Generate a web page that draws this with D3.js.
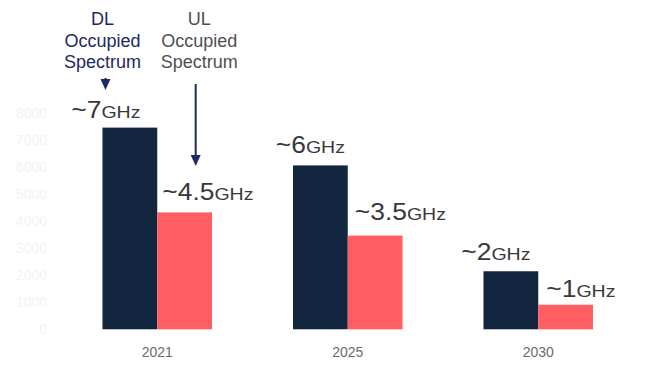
<!DOCTYPE html>
<html>
<head>
<meta charset="utf-8">
<script src="https://cdn.jsdelivr.net/npm/d3@7"></script>
<style>
  body { margin: 0; background: #fff; }
  svg { display: block; font-family: "Liberation Sans", Arial, sans-serif; }
</style>
</head>
<body>
<div id="chart"></div>
<script>
// data (MHz)
var years = ['2021', '2025', '2030'];
var series = ['DL', 'UL'];
var dlValues = [7470, 6070, 2150];
var ulValues = [4330, 3470, 910];
var dlLabels = ['~7', '~6', '~2'];
var ulLabels = ['~4.5', '~3.5', '~1'];
var yTicks = [0, 1000, 2000, 3000, 4000, 5000, 6000, 7000, 8000];

var width = 654, height = 374;
var colors = { DL: '#13263f', UL: '#ff5e62' };

// label nudges (annotation placement, like the slide)
var dlDx = [-24, -10, -15], dlDy = [-10, -12, -11];
var ulDx = [5, 7, 8], ulDy = [-12, -16, -8];

var svg = d3.select('#chart')
    .append('svg')
    .attr('width', width)
    .attr('height', height)

var x0 = d3.scaleBand()
    .domain(years)
    .range([62, 633.5])
    .paddingInner(0.425)
    .paddingOuter(0.2125);
var x1 = d3.scaleBand()
    .domain(series)
    .range([0, x0.bandwidth()]);
var y = d3.scaleLinear()
    .domain([0, 8000])
    .range([329.3, 113.3]);

var rows = years.map(function (yr, i) {
    return { year: yr, DL: dlValues[i], UL: ulValues[i], i: i };
});

// faint y axis labels
svg.append('g')
    .selectAll('text')
    .data(yTicks)
    .enter()
    .append('text')
    .attr('x', 47)
    .attr('y', function (d) { return y(d); })
    .attr('dy', '0.35em')
    .attr('text-anchor', 'end')
    .attr('font-size', 14)
    .attr('fill', '#f3f3f3')
    .text(function (d) { return d; });

// bars
var groups = svg.selectAll('.grp')
    .data(rows)
    .enter()
    .append('g')
    .attr('class', 'grp')
    .attr('transform', function (d) { return 'translate(' + x0(d.year) + ',0)'; });

groups.selectAll('rect')
    .data(function (d) {
        return series.map(function (s) { return { key: s, value: d[s] }; });
    })
    .enter()
    .append('rect')
    .attr('x', function (d) { return x1(d.key); })
    .attr('y', function (d) { return y(d.value); })
    .attr('width', x1.bandwidth())
    .attr('height', function (d) { return y(0) - y(d.value); })
    .attr('fill', function (d) { return colors[d.key]; });

// x labels
svg.append('g')
    .selectAll('text')
    .data(years)
    .enter()
    .append('text')
    .attr('x', function (d) { return x0(d) + x0.bandwidth() / 2; })
    .attr('y', 357)
    .attr('text-anchor', 'middle')
    .attr('font-size', 14)
    .attr('fill', '#6b6b6b')
    .text(function (d) { return d; });

// value labels (slide text is a little wider than normal)
function addLabel(txt, xp, yp, anchor) {
    var t = svg.append('g')
        .attr('transform', 'translate(' + xp + ',' + yp + ') scale(1.15,1)')
        .append('text')
        .attr('text-anchor', anchor)
        .attr('fill', '#383838');
    t.append('tspan').attr('font-size', 23).text(txt);
    t.append('tspan').attr('font-size', 17).text('GHz');
}
rows.forEach(function (d, i) {
    addLabel(dlLabels[i],
        x0(d.year) + x1('DL') + x1.bandwidth() / 2 + dlDx[i],
        y(d.DL) + dlDy[i], 'middle');
    addLabel(ulLabels[i],
        x0(d.year) + x1('UL') + ulDx[i],
        y(d.UL) + ulDy[i], 'start');
});

// annotations
var navy = '#1d2a5f';
var dlX = x0('2021'), ulX = x0('2021') + x1('UL') + 42;
var dlText = svg.append('text')
    .attr('text-anchor', 'middle')
    .attr('font-size', 18)
    .attr('fill', navy);
['DL', 'Occupied', 'Spectrum'].forEach(function (s, k) {
    dlText.append('tspan').attr('x', dlX).attr('y', 25 + k * 21.5).text(s);
});
var ulText = svg.append('text')
    .attr('text-anchor', 'middle')
    .attr('font-size', 18)
    .attr('fill', '#4f4f4f');
['UL', 'Occupied', 'Spectrum'].forEach(function (s, k) {
    ulText.append('tspan').attr('x', ulX).attr('y', 25 + k * 21.5).text(s);
});

function arrow(xp, y1, y2) {
    svg.append('line')
        .attr('x1', xp).attr('x2', xp)
        .attr('y1', y1).attr('y2', y2 - 8)
        .attr('stroke', navy)
        .attr('stroke-width', 2);
    svg.append('path')
        .attr('d', 'M' + (xp - 5) + ',' + (y2 - 11) + 'L' + (xp + 5) + ',' + (y2 - 11) + 'L' + xp + ',' + y2 + 'Z')
        .attr('fill', navy);
}
arrow(dlX + 3, 78, 90);
arrow(195.7, 84, 166);
</script>
</body>
</html>
